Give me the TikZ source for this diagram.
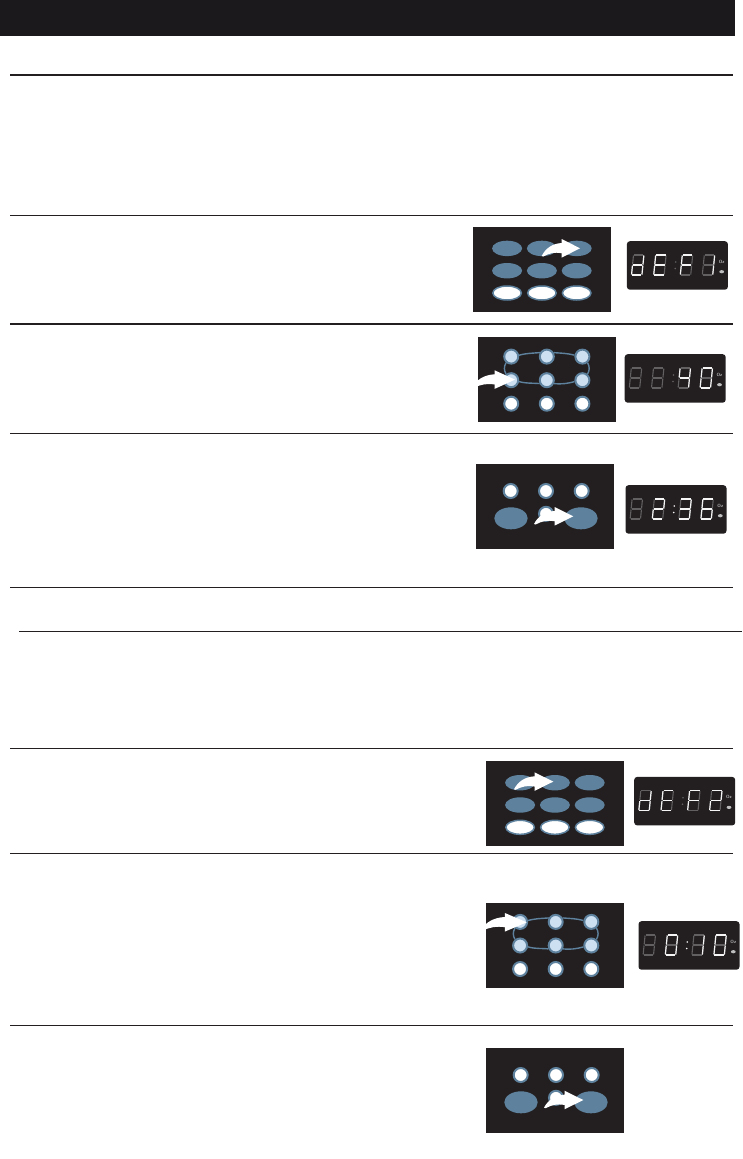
\documentclass[tikz,border=0pt]{standalone}
\usepackage{tikz}
\usetikzlibrary{positioning,calc,shapes.geometric}
\definecolor{PanelDark}{RGB}{35,31,32}
\definecolor{HeaderDark}{RGB}{27,25,28}
\definecolor{KeyBlue}{RGB}{94,130,158}
\definecolor{KeyLight}{RGB}{205,224,242}
\definecolor{SegDim}{RGB}{98,96,97}
\definecolor{SegLit}{RGB}{245,245,245}

% seven segments of one digit
\newcommand{\segA}[1]{\draw[#1] (-4.7,-10) -- (4.7,-10);}
\newcommand{\segB}[1]{\draw[#1] (5.2,-9.5) -- (5.2,-0.5);}
\newcommand{\segC}[1]{\draw[#1] (5.2,0.5) -- (5.2,9.5);}
\newcommand{\segD}[1]{\draw[#1] (-4.7,10) -- (4.7,10);}
\newcommand{\segE}[1]{\draw[#1] (-5.2,0.5) -- (-5.2,9.5);}
\newcommand{\segF}[1]{\draw[#1] (-5.2,-9.5) -- (-5.2,-0.5);}
\newcommand{\segG}[1]{\draw[#1] (-4.7,0) -- (4.7,0);}
\newcommand{\segX}[1]{}
\newcommand{\segdigit}[3]{
    \begin{scope}[shift={(#1,#2)},xslant=0.1]
        \foreach \seg in {A,B,C,D,E,F,G} {\csname seg\seg\endcsname{segoff}}
        \foreach \seg in {#3} {\csname seg\seg\endcsname{segon}}
    \end{scope}
}

% clock read-out: name, top left, four digits, colon colour
\newcommand{\clockdisplay}[8]{
    \node[readout] (#1) at (#2,#3) {};
    \begin{scope}[shift={(#2,#3)}]
        \segdigit{11}{24}{#4}
        \segdigit{33.2}{24}{#5}
        \segdigit{59.8}{24}{#6}
        \segdigit{81.8}{24}{#7}
        \fill[#8] (49,21) circle (0.9);
        \fill[#8] (48.5,27.5) circle (0.9);
        \node[unitlabel] (#1oz) at (95,20.5) {Oz};
        \fill[white!75!black] (95,30.7) ellipse (2.4 and 1.6);
    \end{scope}
}

% white press arrow: tail position, length
\newcommand{\pressarrow}[3]{
    \begin{scope}[shift={(#1,#2)},xscale=#3/38.3]
        \fill[white] (0,0) .. controls (4,-8) and (11,-12.5) .. (20,-13)
            -- (20,-17) -- (38.3,-7.7) -- (20,1.6) -- (20,-2.8)
            .. controls (13,-4) and (8,-3) .. (1.5,0.5) -- cycle;
    \end{scope}
}

% panel with three rows of ovals
\newcommand{\ovalpanel}[3]{
    \node[keypanel] (#1) at (#2,#3) {};
    \begin{scope}[shift={(#2,#3)}]
        \foreach \col/\kx in {1/34.8,2/69.6,3/104.4} {
            \node[softkey] (#1a\col) at (\kx,21.7) {};
            \node[softkey] (#1b\col) at (\kx,44) {};
            \node[whitekey] (#1c\col) at (\kx,66.3) {};
        }
    \end{scope}
}

% panel with three rows of round keys and a loop round the upper two
\newcommand{\loopanel}[3]{
    \node[keypanel] (#1) at (#2,#3) {};
    \begin{scope}[shift={(#2,#3)}]
        \foreach \col/\kx in {1/33.9,2/69.5,3/105.1} {
            \node[bluepad] (#1a\col) at (\kx,19.6) {};
            \node[bluepad] (#1b\col) at (\kx,43.2) {};
            \node[whitepad] (#1c\col) at (\kx,66.7) {};
        }
    \end{scope}
    \draw[keyloop] (#1a1.10) to[out=15,in=185] (#1a2.150);
    \draw[keyloop] (#1a2.30) to[out=-5,in=165] (#1a3.170);
    \draw[keyloop] (#1a3.-50) to[out=-60,in=60] (#1b3.50);
    \draw[keyloop] (#1b1.-10) to[out=-15,in=175] (#1b2.205);
    \draw[keyloop] (#1b2.-25) to[out=-5,in=195] (#1b3.190);
    \draw[keyloop] (#1a1.230) to[out=240,in=120] (#1b1.130);
}

% panel with two large ovals under three round keys
\newcommand{\startpanel}[3]{
    \node[keypanel] (#1) at (#2,#3) {};
    \begin{scope}[shift={(#2,#3)}]
        \foreach \col/\kx in {1/35,2/70.3,3/106} {
            \node[whitepad] (#1a\col) at (\kx,27.7) {};
        }
        \node[whitepad] (#1mid) at (70.3,50.5) {};
        \node[bigkey] (#1left) at (35.3,55) {};
        \node[bigkey] (#1right) at (105.3,55) {};
    \end{scope}
}

\begin{document}
\begin{tikzpicture}[
    x=1pt,
    y=-1pt,
    keypanel/.style={
        fill=PanelDark,
        anchor=north west,
        inner sep=0pt,
        minimum width=138pt,
        minimum height=85pt
    },
    readout/.style={
        fill=PanelDark,
        anchor=north west,
        rounded corners=3pt,
        inner sep=0pt,
        minimum width=101pt,
        minimum height=48.5pt
    },
    softkey/.style={
        ellipse,
        fill=KeyBlue,
        inner sep=0pt,
        minimum width=30pt,
        minimum height=15.4pt
    },
    whitekey/.style={
        ellipse,
        draw=KeyBlue,
        line width=1.5pt,
        fill=white,
        inner sep=0pt,
        minimum width=28.5pt,
        minimum height=14pt
    },
    bigkey/.style={
        ellipse,
        fill=KeyBlue,
        inner sep=0pt,
        minimum width=33.4pt,
        minimum height=22pt
    },
    bluepad/.style={
        circle,
        draw=KeyBlue,
        line width=2pt,
        fill=KeyLight,
        inner sep=0pt,
        minimum size=14pt
    },
    whitepad/.style={
        circle,
        draw=KeyBlue,
        line width=2pt,
        fill=white,
        inner sep=0pt,
        minimum size=14pt
    },
    keyloop/.style={
        draw=KeyBlue,
        line width=1.4pt
    },
    segon/.style={
        draw=SegLit,
        line width=1.2pt
    },
    segoff/.style={
        draw=SegDim,
        line width=1.1pt
    },
    unitlabel/.style={
        text=white!75!black,
        font=\fontsize{4.5}{4.5}\selectfont\sffamily\bfseries,
        inner sep=0pt
    },
    rulethin/.style={
        draw=PanelDark,
        line width=1pt
    },
    rulethick/.style={
        draw=PanelDark,
        line width=2pt
    }
]
\useasboundingbox (0,0) rectangle (742,1159);

\fill[HeaderDark] (0,0) rectangle (735,36);

\draw[rulethick] (10,74.5) -- (733,74.5);
\draw[rulethin] (10,215.5) -- (733,215.5);
\draw[rulethick] (10,323.5) -- (733,323.5);
\draw[rulethin] (10,433.5) -- (733,433.5);
\draw[rulethin] (10,587.5) -- (733,587.5);
\draw[rulethin] (19,631.5) -- (742,631.5);
\draw[rulethin] (10,748.5) -- (733,748.5);
\draw[rulethin] (10,853.5) -- (733,853.5);
\draw[rulethin] (10,1025.5) -- (733,1025.5);

\ovalpanel{one}{472.3}{226.7}
\pressarrow{541.7}{256}{38.3}
\clockdisplay{clockone}{626.7}{241}{B,C,D,E,G}{A,D,E,F,G}{A,E,F,G}{B,C}{SegDim}

\loopanel{two}{477.3}{337}
\pressarrow{472.3}{387.3}{42.7}
\clockdisplay{clocktwo}{624.5}{354}{X}{X}{B,C,F,G}{A,B,C,D,E,F}{SegDim}

\startpanel{three}{475.7}{463.3}
\pressarrow{534}{524}{39.3}
\clockdisplay{clockthree}{625.3}{485}{X}{A,B,D,E,G}{A,B,C,D,G}{A,C,D,E,F,G}{SegLit}

\ovalpanel{four}{485.3}{761}
\pressarrow{514}{789.3}{39.3}
\clockdisplay{clockfour}{634}{776.7}{B,C,D,E,G}{A,D,E,F,G}{A,E,F,G}{A,B,D,E,G}{SegDim}

\loopanel{five}{486.2}{902.3}
\pressarrow{481}{930}{45.7}
\clockdisplay{clockfive}{638.3}{921}{X}{A,B,C,D,E,F}{B,C}{A,B,C,D,E,F}{SegLit}

\startpanel{six}{485.7}{1047.3}
\pressarrow{544}{1107.7}{39.3}

\end{tikzpicture}
\end{document}
